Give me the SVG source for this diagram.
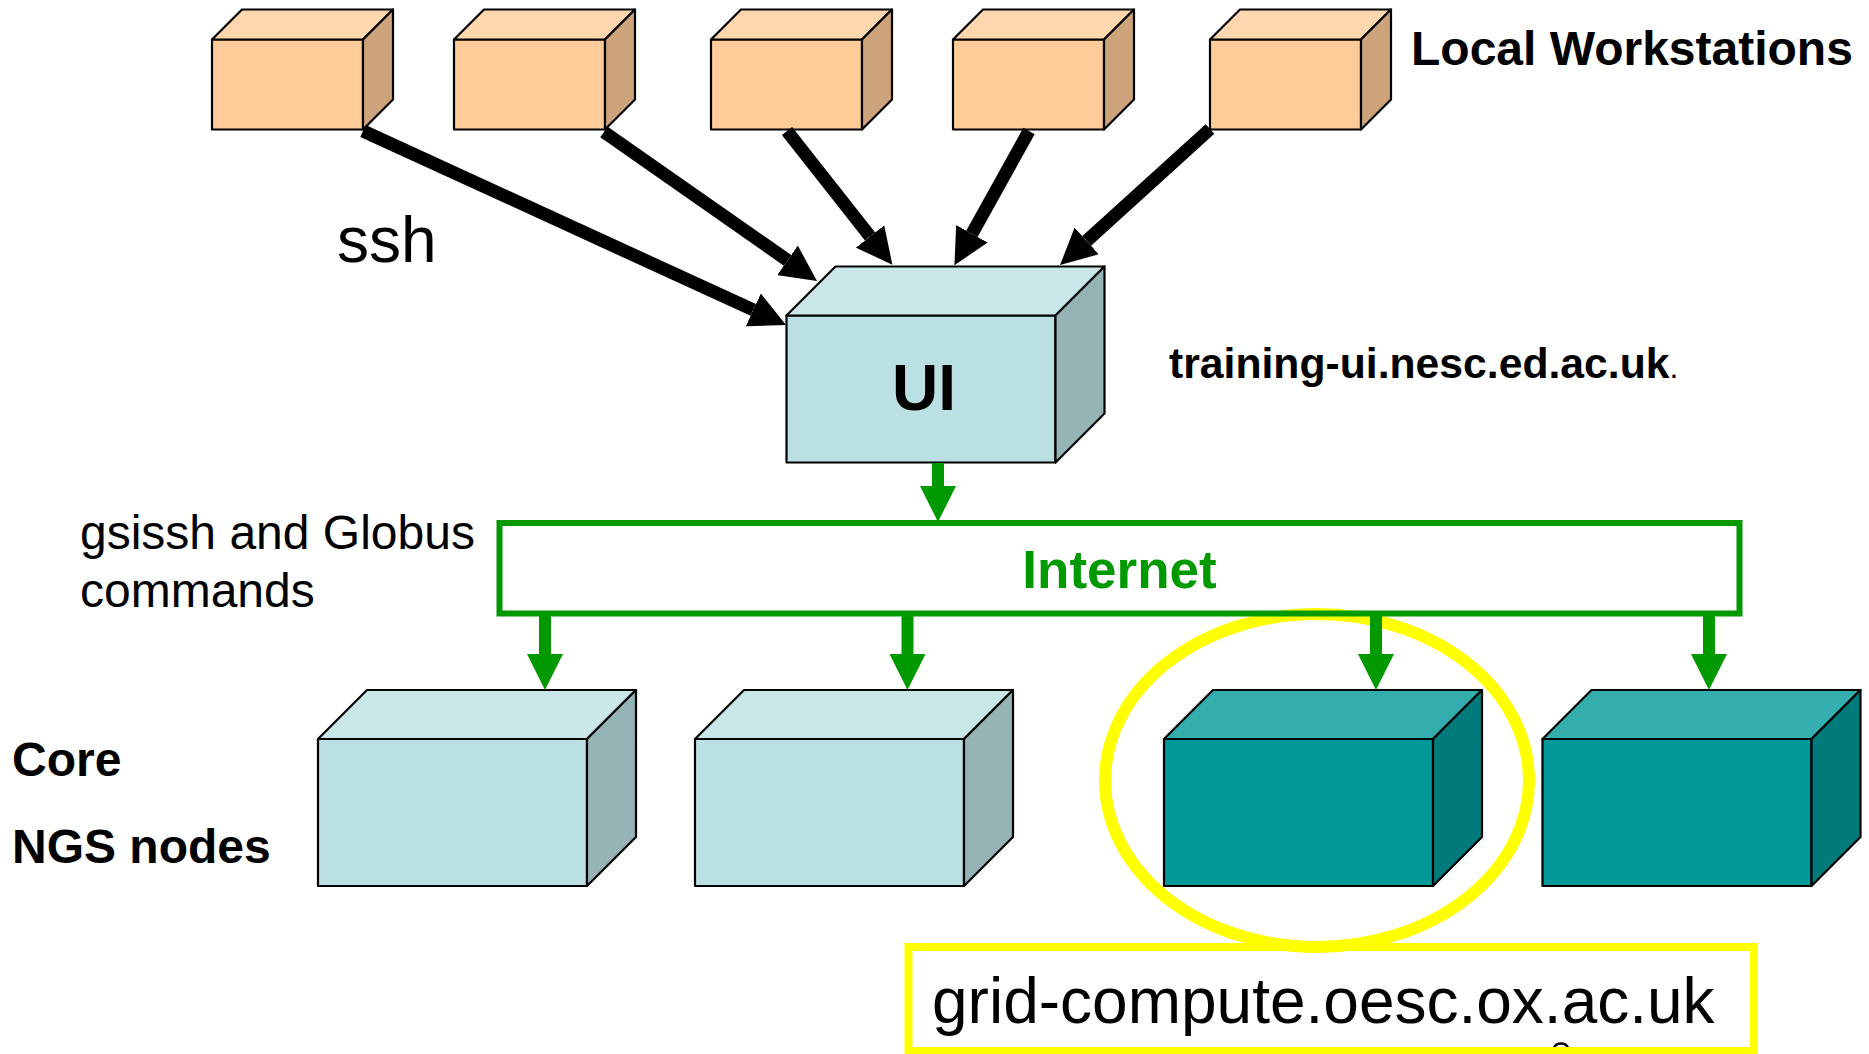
<svg xmlns="http://www.w3.org/2000/svg" xmlns:xlink="http://www.w3.org/1999/xlink" width="1869" height="1054" viewBox="0 0 1869 1054">
<style>
text{font-family:"Liberation Sans",Arial,sans-serif;fill:#000}
.b{font-weight:bold}
.e{stroke:#000;stroke-width:2.2;stroke-linejoin:round}
.of{fill:#FFCC99}.ot{fill:#FFD6AD}.os{fill:#CCA37A}
.lf{fill:#BBE0E3}.lt{fill:#C9E6E8}.ls{fill:#96B3B6}
.tf{fill:#009999}.tt{fill:#33ADAD}.ts{fill:#007A7A}
.ka{stroke:#000;stroke-width:13;fill:none;marker-end:url(#kh)}
.ga{stroke:#009900;stroke-width:12;fill:none;marker-end:url(#gh)}
</style>
<defs>
<marker id="kh" markerUnits="userSpaceOnUse" markerWidth="36" markerHeight="36" refX="0" refY="18" orient="auto"><path d="M0 0L36 18L0 36z" fill="#000"/></marker>
<marker id="gh" markerUnits="userSpaceOnUse" markerWidth="36" markerHeight="36" refX="0" refY="18" orient="auto"><path d="M0 0L36 18L0 36z" fill="#009900"/></marker>
<g id="ws"><path class="e of" d="M0 30H151V120H0z"/><path class="e ot" d="M0 30L30 0H181L151 30z"/><path class="e os" d="M151 30L181 0V90L151 120z"/></g>
<g id="lb"><path class="e lf" d="M0 49H269V196H0z"/><path class="e lt" d="M0 49L49 0H318L269 49z"/><path class="e ls" d="M269 49L318 0V147L269 196z"/></g>
<g id="tb"><path class="e tf" d="M0 49H269V196H0z"/><path class="e tt" d="M0 49L49 0H318L269 49z"/><path class="e ts" d="M269 49L318 0V147L269 196z"/></g>
</defs>
<ellipse id="highlight" cx="1317" cy="780.5" rx="212" ry="166.5" fill="none" stroke="#FFFF00" stroke-width="12"/>
<g id="ws1"><use xlink:href="#ws" href="#ws" x="212" y="9.5"/></g>
<g id="ws2"><use xlink:href="#ws" href="#ws" x="454" y="9.5"/></g>
<g id="ws3"><use xlink:href="#ws" href="#ws" x="711" y="9.5"/></g>
<g id="ws4"><use xlink:href="#ws" href="#ws" x="953" y="9.5"/></g>
<g id="ws5"><use xlink:href="#ws" href="#ws" x="1210" y="9.5"/></g>
<g id="ui"><use xlink:href="#lb" href="#lb" x="786.5" y="266.5"/><text class="b" x="924" y="410" font-size="64" text-anchor="middle">UI</text></g>
<g id="internet"><rect x="499.5" y="523" width="1240" height="90.5" fill="none" stroke="#009900" stroke-width="6"/><text class="b" x="1119.5" y="588" font-size="53" text-anchor="middle" style="fill:#009900">Internet</text></g>
<g id="ngs1"><use xlink:href="#lb" href="#lb" x="318" y="690"/></g>
<g id="ngs2"><use xlink:href="#lb" href="#lb" x="695" y="690"/></g>
<g id="ngs3"><use xlink:href="#tb" href="#tb" x="1164" y="690"/></g>
<g id="ngs4"><use xlink:href="#tb" href="#tb" x="1542.5" y="690"/></g>
<g id="connectors">
<path class="ka" d="M363 131L753.3 309.9"/>
<path class="ka" d="M604 132L787.5 260.3"/>
<path class="ka" d="M787 131L870.1 236.5"/>
<path class="ka" d="M1029 131L971.9 233.8"/>
<path class="ka" d="M1210 129L1086.7 240.9"/>
<path class="ga" d="M938 463V486"/>
<path class="ga" d="M545 614V654"/>
<path class="ga" d="M907.5 614V654"/>
<path class="ga" d="M1376 614V654"/>
<path class="ga" d="M1709 614V654"/>
</g>
<g id="labels">
<text class="b" x="1411" y="65" font-size="48">Local Workstations</text>
<text x="337" y="262" font-size="64">ssh</text>
<text class="b" x="1169" y="378" font-size="42.7">training-ui.nesc.ed.ac.uk<tspan font-weight="normal" font-size="32">.</tspan></text>
<text x="80" y="549" font-size="48">gsissh and Globus</text>
<text x="80" y="607" font-size="48">commands</text>
<text class="b" x="12" y="776" font-size="48">Core</text>
<text class="b" x="12" y="863" font-size="48">NGS nodes</text>
</g>
<path d="M1554 1048C1556 1042 1566 1042 1568 1048" fill="none" stroke="#000" stroke-width="2.5"/>
<g id="address"><rect x="908.5" y="947" width="845.5" height="104" fill="none" stroke="#FFFF00" stroke-width="8"/><text x="932" y="1023" font-size="64">grid-compute.oesc.ox.ac.uk</text></g>
</svg>
